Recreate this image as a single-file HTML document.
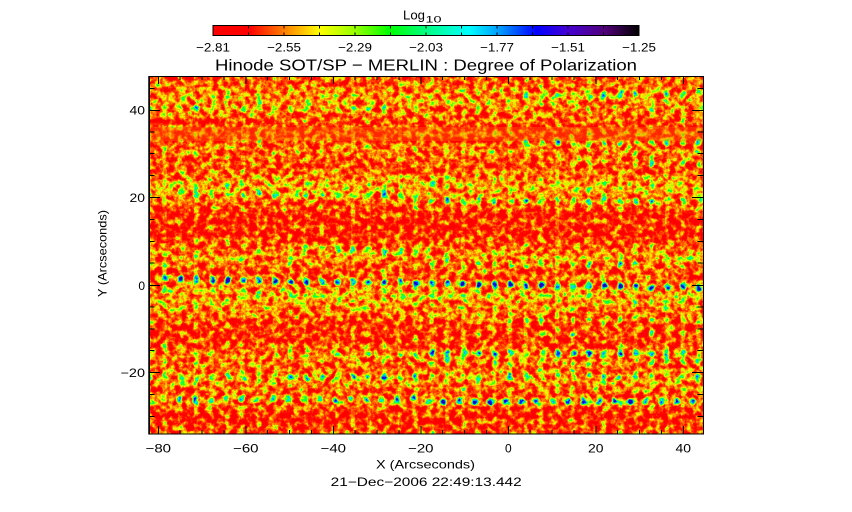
<!DOCTYPE html>
<html><head><meta charset="utf-8"><style>
html,body{margin:0;padding:0;background:#fff;}
svg{display:block;}
text{font-family:"Liberation Sans",sans-serif;fill:#000;}
</style></head><body>
<svg width="852" height="512" viewBox="0 0 852 512" xmlns="http://www.w3.org/2000/svg">
<defs>
<linearGradient id="cb" x1="0" y1="0" x2="1" y2="0">
<stop offset="0" stop-color="#ff0000"/>
<stop offset="0.085" stop-color="#ff0000"/>
<stop offset="0.168" stop-color="#ff8000"/>
<stop offset="0.25" stop-color="#ffff00"/>
<stop offset="0.334" stop-color="#96ff00"/>
<stop offset="0.415" stop-color="#00ff00"/>
<stop offset="0.5" stop-color="#00ff80"/>
<stop offset="0.6" stop-color="#00ffff"/>
<stop offset="0.68" stop-color="#0090ff"/>
<stop offset="0.758" stop-color="#0000ff"/>
<stop offset="0.834" stop-color="#4600d2"/>
<stop offset="0.92" stop-color="#500078"/>
<stop offset="1" stop-color="#000000"/>
</linearGradient>
<linearGradient id="bands" gradientUnits="userSpaceOnUse" x1="0" y1="76" x2="0" y2="434">
<stop offset="0" stop-color="#262626"/>
<stop offset="0.034" stop-color="#333333"/>
<stop offset="0.067" stop-color="#474747"/>
<stop offset="0.1" stop-color="#333333"/>
<stop offset="0.134" stop-color="#1f1f1f"/>
<stop offset="0.179" stop-color="#1f1f1f"/>
<stop offset="0.207" stop-color="#383838"/>
<stop offset="0.257" stop-color="#1f1f1f"/>
<stop offset="0.307" stop-color="#525252"/>
<stop offset="0.346" stop-color="#383838"/>
<stop offset="0.385" stop-color="#0f0f0f"/>
<stop offset="0.441" stop-color="#0d0d0d"/>
<stop offset="0.48" stop-color="#2e2e2e"/>
<stop offset="0.508" stop-color="#474747"/>
<stop offset="0.541" stop-color="#1f1f1f"/>
<stop offset="0.58" stop-color="#333333"/>
<stop offset="0.615" stop-color="#525252"/>
<stop offset="0.659" stop-color="#383838"/>
<stop offset="0.698" stop-color="#141414"/>
<stop offset="0.737" stop-color="#141414"/>
<stop offset="0.782" stop-color="#404040"/>
<stop offset="0.81" stop-color="#262626"/>
<stop offset="0.849" stop-color="#474747"/>
<stop offset="0.883" stop-color="#242424"/>
<stop offset="0.911" stop-color="#383838"/>
<stop offset="0.95" stop-color="#0a0a0a"/>
<stop offset="1" stop-color="#262626"/>
</linearGradient>
<radialGradient id="rg">
<stop offset="0" stop-color="#fff" stop-opacity="1"/>
<stop offset="0.45" stop-color="#fff" stop-opacity="0.75"/>
<stop offset="1" stop-color="#fff" stop-opacity="0"/>
</radialGradient>
<pattern id="vs" patternUnits="userSpaceOnUse" x="157.15" y="0" width="15.7" height="10">
<rect x="5.5" y="0" width="4" height="10" fill="#fff" fill-opacity="0.12"/>
</pattern>
<pattern id="dA" patternUnits="userSpaceOnUse" x="157.15" y="-7" width="15.7" height="14">
<ellipse cx="7.85" cy="7" rx="4.2" ry="5" fill="url(#rg)"/>
</pattern>
<pattern id="dB" patternUnits="userSpaceOnUse" x="156.225" y="-7" width="15.55" height="14">
<ellipse cx="7.775" cy="7" rx="4.2" ry="5" fill="url(#rg)"/>
</pattern>
<filter id="hm" filterUnits="userSpaceOnUse" x="149" y="76" width="554" height="358" color-interpolation-filters="sRGB">
<feTurbulence type="fractalNoise" baseFrequency="0.16" numOctaves="4" seed="7" result="n"/>
<feColorMatrix in="n" type="matrix" values="1 0 0 0 0  1 0 0 0 0  1 0 0 0 0  0 0 0 0 1" result="g"/>
<feComposite in="SourceGraphic" in2="g" operator="arithmetic" k1="0" k2="0.5" k3="0.65" k4="0.155" result="x"/>
<feComponentTransfer in="x">
<feFuncR type="table" tableValues="1 1 1 1 1 1 1 1 1 1 1 1 1 1 0.96 0.51 0 0 0 0 0.157"/>
<feFuncG type="table" tableValues="0 0 0 0 0 0 0 0 0 0 0.04 0.235 0.47 0.745 1 1 1 1 0.667 0.118 0"/>
<feFuncB type="table" tableValues="0 0 0 0 0 0 0 0 0 0 0 0 0 0 0 0 0.157 0.824 1 1 0.706"/>
<feFuncA type="discrete" tableValues="1"/>
</feComponentTransfer>
</filter>
<clipPath id="pc"><rect x="149" y="76" width="554" height="358"/></clipPath>
</defs>

<rect x="0" y="0" width="852" height="512" fill="#fff"/>

<g clip-path="url(#pc)">
<rect x="149" y="76" width="554" height="358" fill="#ff5a00"/>
<g filter="url(#hm)">
<rect x="149" y="76" width="554" height="358" fill="#000"/>
<rect x="149" y="76" width="554" height="358" fill="url(#bands)"/>
<rect x="149" y="76" width="554" height="358" fill="url(#vs)"/>
<rect x="158" y="-7" width="545" height="14" fill="url(#dA)" transform="translate(0,279) rotate(0.92 165 0)"/>
<rect x="155" y="-7" width="270" height="14" fill="url(#dB)" opacity="0.7" transform="translate(0,399.5)"/>
<rect x="424" y="-7" width="279" height="14" fill="url(#dB)" transform="translate(0,401.5)"/>
<rect x="424" y="-7" width="279" height="14" fill="url(#dA)" opacity="0.7" transform="translate(0,353)"/>
<rect x="300" y="-7" width="124" height="14" fill="url(#dA)" opacity="0.4" transform="translate(0,355)"/>
<rect x="424" y="-7" width="279" height="14" fill="url(#dA)" opacity="0.35" transform="translate(0,362)"/>
<rect x="150" y="-7" width="553" height="14" fill="url(#dA)" opacity="0.45" transform="translate(0,377)"/>
<rect x="424" y="-7" width="279" height="14" fill="url(#dA)" opacity="0.6" transform="translate(0,201)"/>
<rect x="150" y="-7" width="274" height="14" fill="url(#dA)" opacity="0.4" transform="translate(0,194)"/>
<rect x="520" y="-7" width="183" height="14" fill="url(#dA)" opacity="0.6" transform="translate(0,143)"/>
<rect x="560" y="-7" width="143" height="14" fill="url(#dA)" opacity="0.4" transform="translate(0,163)"/>
<rect x="520" y="-7" width="183" height="14" fill="url(#dA)" opacity="0.4" transform="translate(0,94)"/>
<rect x="150" y="-7" width="280" height="14" fill="url(#dA)" opacity="0.35" transform="translate(0,109)"/>
<rect x="280" y="-7" width="150" height="14" fill="url(#dA)" opacity="0.4" transform="translate(0,249)"/>
<rect x="424" y="-7" width="279" height="14" fill="url(#dA)" opacity="0.35" transform="translate(0,265)"/>
<rect x="424" y="-7" width="279" height="14" fill="url(#dA)" opacity="0.35" transform="translate(0,320)"/>
<rect x="424" y="-7" width="279" height="14" fill="url(#dA)" opacity="0.35" transform="translate(0,333)"/>
</g>
<rect x="149" y="127" width="554" height="14" fill="#ff6a00" fill-opacity="0.35"/>
</g>

<rect x="149.5" y="76.5" width="554" height="357.5" fill="none" stroke="#000" stroke-width="1"/>
<line x1="149" y1="76" x2="149" y2="434.5" stroke="#000" stroke-width="1.5"/>

<path stroke="#000" stroke-width="1" fill="none" d="
M158.5 434V426 M246 434V426 M333.5 434V426 M421 434V426 M508.5 434V426 M596 434V426 M683.5 434V426
M158.5 76V84 M246 76V84 M333.5 76V84 M421 76V84 M508.5 76V84 M596 76V84 M683.5 76V84
M180 434V430 M202 434V430 M224 434V430 M267.5 434V430 M289.5 434V430 M311.5 434V430 M355 434V430 M377 434V430 M399 434V430 M442.5 434V430 M464.5 434V430 M486.5 434V430 M530 434V430 M552 434V430 M574 434V430 M617.5 434V430 M639.5 434V430 M661.5 434V430
M180 76V80 M202 76V80 M224 76V80 M267.5 76V80 M289.5 76V80 M311.5 76V80 M355 76V80 M377 76V80 M399 76V80 M442.5 76V80 M464.5 76V80 M486.5 76V80 M530 76V80 M552 76V80 M574 76V80 M617.5 76V80 M639.5 76V80 M661.5 76V80
M149 110.5H160 M149 197.5H160 M149 285.5H160 M149 372.5H160
M703 110.5H692 M703 197.5H692 M703 285.5H692 M703 372.5H692
M149 88.5H154.5 M149 132H154.5 M149 153.5H154.5 M149 175.5H154.5 M149 219.5H154.5 M149 241.5H154.5 M149 263H154.5 M149 307H154.5 M149 329H154.5 M149 350.5H154.5 M149 394.5H154.5 M149 416.5H154.5
M703 88.5H697.5 M703 132H697.5 M703 153.5H697.5 M703 175.5H697.5 M703 219.5H697.5 M703 241.5H697.5 M703 263H697.5 M703 307H697.5 M703 329H697.5 M703 350.5H697.5 M703 394.5H697.5 M703 416.5H697.5
"/>

<rect x="213" y="25.5" width="426" height="10" fill="url(#cb)" stroke="#000" stroke-width="1"/>
<path stroke="#000" stroke-width="1" fill="none" d="
M248.5 25.5V28.5 M284 25.5V28.5 M319.5 25.5V28.5 M355 25.5V28.5 M390.5 25.5V28.5 M426 25.5V28.5 M461.5 25.5V28.5 M497 25.5V28.5 M532.5 25.5V28.5 M568 25.5V28.5 M603.5 25.5V28.5
M248.5 35.5V32.5 M284 35.5V32.5 M319.5 35.5V32.5 M355 35.5V32.5 M390.5 35.5V32.5 M426 35.5V32.5 M461.5 35.5V32.5 M497 35.5V32.5 M532.5 35.5V32.5 M568 35.5V32.5 M603.5 35.5V32.5
"/>
<text x="403" y="19.3" font-size="13" textLength="22" lengthAdjust="spacingAndGlyphs">Log</text>
<text x="425.5" y="22.7" font-size="9.5" textLength="16" lengthAdjust="spacingAndGlyphs">10</text>

<g font-size="12" text-anchor="middle">
<text x="213" y="51.7" textLength="34" lengthAdjust="spacingAndGlyphs">−2.81</text>
<text x="284" y="51.7" textLength="34" lengthAdjust="spacingAndGlyphs">−2.55</text>
<text x="355" y="51.7" textLength="34" lengthAdjust="spacingAndGlyphs">−2.29</text>
<text x="426" y="51.7" textLength="34" lengthAdjust="spacingAndGlyphs">−2.03</text>
<text x="497" y="51.7" textLength="34" lengthAdjust="spacingAndGlyphs">−1.77</text>
<text x="568" y="51.7" textLength="34" lengthAdjust="spacingAndGlyphs">−1.51</text>
<text x="639" y="51.7" textLength="34" lengthAdjust="spacingAndGlyphs">−1.25</text>
</g>

<text x="215" y="70.5" font-size="16" textLength="422" lengthAdjust="spacingAndGlyphs">Hinode SOT/SP − MERLIN : Degree of Polarization</text>

<g font-size="12" text-anchor="middle">
<text x="158.3" y="452.7" textLength="25.5" lengthAdjust="spacingAndGlyphs">−80</text>
<text x="245.8" y="452.7" textLength="25.5" lengthAdjust="spacingAndGlyphs">−60</text>
<text x="333.3" y="452.7" textLength="25.5" lengthAdjust="spacingAndGlyphs">−40</text>
<text x="420.8" y="452.7" textLength="25.5" lengthAdjust="spacingAndGlyphs">−20</text>
<text x="508.3" y="452.7">0</text>
<text x="595.8" y="452.7" textLength="15.5" lengthAdjust="spacingAndGlyphs">20</text>
<text x="683.3" y="452.7" textLength="15.5" lengthAdjust="spacingAndGlyphs">40</text>
</g>
<g font-size="12" text-anchor="end">
<text x="145" y="114.5" textLength="15.5" lengthAdjust="spacingAndGlyphs">40</text>
<text x="145" y="202" textLength="15.5" lengthAdjust="spacingAndGlyphs">20</text>
<text x="145" y="290">0</text>
<text x="145" y="377" textLength="24.5" lengthAdjust="spacingAndGlyphs">−20</text>
</g>

<text x="376" y="468.3" font-size="12" textLength="99" lengthAdjust="spacingAndGlyphs">X (Arcseconds)</text>
<text x="330.7" y="486" font-size="12" textLength="191" lengthAdjust="spacingAndGlyphs">21−Dec−2006 22:49:13.442</text>
<text transform="translate(106.7,297) rotate(-90)" x="0" y="0" font-size="12" textLength="87" lengthAdjust="spacingAndGlyphs">Y (Arcseconds)</text>
</svg>
</body></html>
